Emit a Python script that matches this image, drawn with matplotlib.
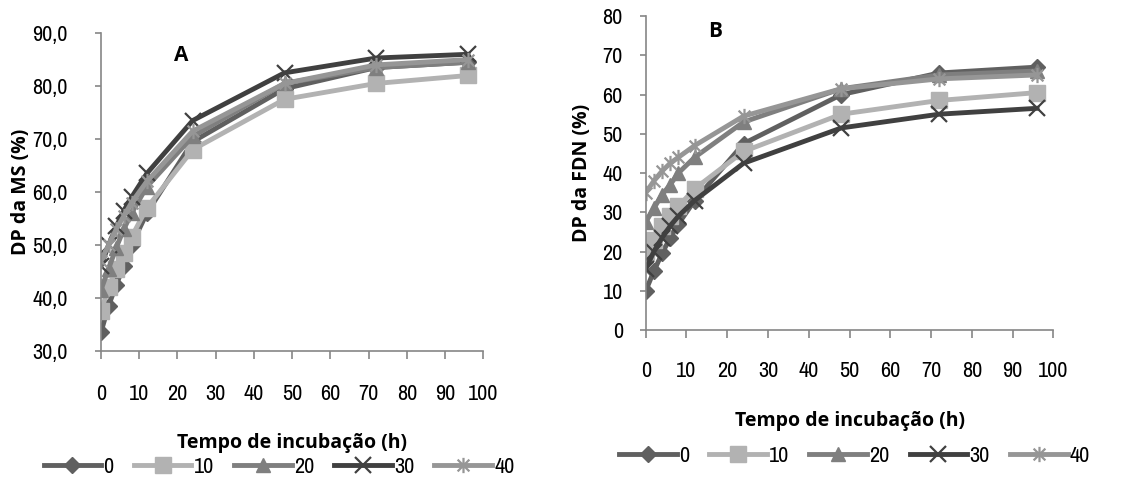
import matplotlib
matplotlib.use("Agg")
import matplotlib.pyplot as plt
from matplotlib import font_manager
from matplotlib.path import Path

# condensed family for the numbers if the machine has one, Open Sans Bold for titles
names = sorted({f.name for f in font_manager.fontManager.ttflist})
narrow = [n for n in names if "Narrow" in n or "Condensed" in n]
fam = narrow[0] if narrow else "Open Sans"
plt.rcParams["font.family"] = [fam, "DejaVu Sans"]
bold_fam = ["Open Sans", "DejaVu Sans"]

hours = [0, 2, 4, 6, 8, 12, 24, 48, 72, 96]
levels = ["0", "10", "20", "30", "40"]

# A - DP da MS (%)
ms_0 = [33.5, 38.5, 42.5, 46.0, 50.0, 56.0, 69.5, 79.5, 83.5, 84.5]
ms_10 = [37.5, 42.0, 45.5, 48.5, 51.5, 57.0, 68.0, 77.5, 80.5, 82.0]
ms_20 = [41.5, 45.5, 49.5, 53.0, 56.0, 61.0, 70.5, 80.5, 83.5, 84.5]
ms_30 = [46.0, 50.0, 53.5, 56.5, 59.0, 63.5, 73.5, 82.5, 85.3, 86.0]
ms_40 = [47.0, 50.0, 53.0, 55.5, 58.0, 62.0, 71.5, 80.5, 84.0, 85.0]

# B - DP da FDN (%)
fdn_0 = [10.0, 15.0, 19.5, 23.5, 27.0, 33.0, 47.5, 60.0, 65.5, 67.0]
fdn_10 = [20.0, 23.0, 26.5, 29.0, 31.5, 36.0, 45.5, 55.0, 58.5, 60.5]
fdn_20 = [27.5, 31.0, 34.5, 37.0, 40.0, 44.0, 53.0, 61.5, 65.0, 66.0]
fdn_30 = [15.5, 20.0, 23.5, 26.5, 29.0, 33.0, 42.5, 51.5, 55.0, 56.5]
fdn_40 = [35.0, 38.0, 40.5, 42.5, 44.0, 47.0, 54.5, 61.5, 64.0, 65.0]

# excel-like star: an x plus a vertical bar
star = Path([(-1, -1), (1, 1), (-1, 1), (1, -1), (0, -1.3), (0, 1.3)],
            [Path.MOVETO, Path.LINETO, Path.MOVETO, Path.LINETO, Path.MOVETO, Path.LINETO])

colors = ["#606060", "#b2b2b2", "#7f7f7f", "#404040", "#969696"]
markers = ["D", "s", "^", "x", star]
msizes = [8, 11, 10, 11, 11]

fig = plt.figure(figsize=(11.23, 4.8), dpi=100)
axA = fig.add_axes([0.0899, 0.269, 0.3405, 0.662])
axB = fig.add_axes([0.575, 0.3125, 0.363, 0.654])


def draw(ax, series, ylim, yticks, ylabels, ylabel, tag, tagpos, ypad, xpad,
         ylab_x, xlab_y, leg_xy):
    for vals, lab, c, m, ms in zip(series, levels, colors, markers, msizes):
        mew = 1.6 if isinstance(m, Path) or m == "x" else 1
        ax.plot(hours, vals, color=c, lw=3.5, marker=m, markersize=ms,
                markerfacecolor=c, markeredgecolor=c, markeredgewidth=mew, label=lab)
    ax.set_xlim(0, 100)
    ax.set_ylim(*ylim)
    ax.set_xticks(range(0, 101, 10))
    ax.set_yticks(yticks)
    ax.set_yticklabels(ylabels)
    for s in ["top", "right"]:
        ax.spines[s].set_visible(False)
    for s in ["left", "bottom"]:
        ax.spines[s].set_color("#868686")
        ax.spines[s].set_linewidth(1.2)
    ax.tick_params(axis="x", direction="out", length=6, width=1.2, color="#868686",
                   labelsize=16, pad=xpad)
    ax.tick_params(axis="y", direction="out", length=4.5, width=1.2, color="#868686",
                   labelsize=16, pad=ypad)
    ax.set_ylabel(ylabel, fontsize=14, fontweight="bold", family=bold_fam)
    ax.yaxis.set_label_coords(ylab_x, 0.5)
    ax.set_xlabel("Tempo de incubação (h)", fontsize=14, fontweight="bold", family=bold_fam)
    ax.xaxis.set_label_coords(0.5, xlab_y)
    ax.text(tagpos[0], tagpos[1], tag, transform=ax.transAxes, fontsize=15,
            fontweight="bold", family=bold_fam, ha="center", va="center")
    ax.legend(loc="center", bbox_to_anchor=leg_xy, ncol=5, frameon=False,
              fontsize=16, handlelength=2.6, columnspacing=0.9, handletextpad=0.1,
              borderaxespad=0)


draw(axA, [ms_0, ms_10, ms_20, ms_30, ms_40], (30, 90),
     [30, 40, 50, 60, 70, 80, 90], ["30,0", "40,0", "50,0", "60,0", "70,0", "80,0", "90,0"],
     "DP da MS (%)", "A", (0.21, 0.93), 19.5, 17.5, -0.183, -0.258, (0.466, -0.365))
draw(axB, [fdn_0, fdn_10, fdn_20, fdn_30, fdn_40], (0, 80),
     list(range(0, 81, 10)), [str(v) for v in range(0, 81, 10)],
     "DP da FDN (%)", "B", (0.17, 0.95), 12, 16, -0.133, -0.258, (0.512, -0.40))

fig.savefig("out.png", dpi=100)
